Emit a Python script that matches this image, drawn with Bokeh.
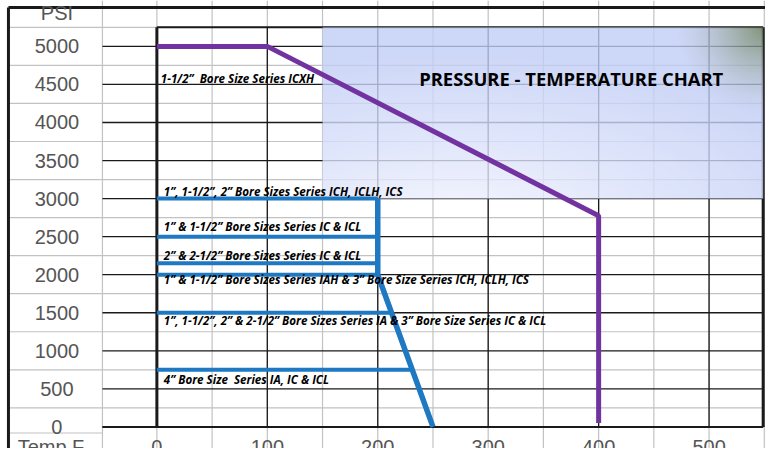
import numpy as np
from bokeh.plotting import figure
from bokeh.models import Range1d
from bokeh.core.properties import value
from bokeh.embed import file_html
from bokeh.resources import INLINE

# ---------------- data ----------------
psi_ticks = [0, 500, 1000, 1500, 2000, 2500, 3000, 3500, 4000, 4500, 5000]
psi_labels = ["0", "500", "1000", "1500", "2000", "2500", "3000", "3500", "4000", "4500", "5000"]
temp_ticks = [0, 100, 200, 300, 400, 500]
temp_labels = ["0", "100", "200", "300", "400", "500"]
y_axis_name = "PSI"
x_axis_name = "Temp F"

# ICXH rating (purple)
icxh_temp = [0, 100, 400, 400]
icxh_psi = [5000, 5000, 2775, 50]

# Rated pressure levels (blue) and the temperature where each meets the derating line
blue_levels = [3000, 2500, 2150, 2000, 1500, 750]
blue_level_end = [200, 200, 200, 200, 212, 231]
# Derating limit line (blue)
blue_limit_temp = [200, 200, 250]
blue_limit_psi = [3000, 2000, 0]

series_labels = [
    "1-1/2\u201d\u00a0 Bore Size Series ICXH",
    "1\u201d, 1-1/2\u201d, 2\u201d Bore Sizes Series ICH, ICLH, ICS",
    "1\u201d & 1-1/2\u201d Bore Sizes Series IC & ICL",
    "2\u201d & 2-1/2\u201d Bore Sizes Series IC & ICL",
    "1\u201d & 1-1/2\u201d Bore Sizes Series IAH & 3\u201d Bore Size Series ICH, ICLH, ICS",
    "1\u201d, 1-1/2\u201d, 2\u201d & 2-1/2\u201d Bore Sizes Series IA & 3\u201d Bore Size Series IC & ICL",
    "4\u201d Bore Size\u00a0 Series IA, IC & ICL",
]
chart_title = "PRESSURE - TEMPERATURE CHART"

# ---------------- layout (positions / styles) ----------------
X_LO, X_HI = -141.6, 551.1
Y_LO, Y_HI = -284.0, 5603.0
LABEL_COL = -49.3       # spreadsheet column boundary left of the plot
X_RIGHT = 549.0         # right border of plot area
Y_TOP = 5250.0          # top border of plot area
SHEET_LEFT = -134.4
SHEET_TOP = 5512.0

label_x = [3.6, 6.3, 6.3, 6.3, 6.3, 6.3, 6.3]
label_y = [4579, 3098, 2634, 2246, 1936, 1394, 620]

p = figure(width=765, height=448, x_range=Range1d(X_LO, X_HI), y_range=Range1d(Y_LO, Y_HI),
           x_axis_type=None, y_axis_type=None, toolbar_location=None, output_backend="svg",
           min_border=0, min_border_left=0, min_border_right=0, min_border_top=0, min_border_bottom=0)
p.outline_line_color = None
p.background_fill_color = "white"
p.border_fill_color = "white"

GRAY = "#c2c2c2"
BLACK = "#1a1a1a"

# spreadsheet gray lines
col_lines = [LABEL_COL] + list(range(0, 551, 50))
p.segment(x0=col_lines, y0=[Y_LO] * len(col_lines), x1=col_lines, y1=[Y_HI] * len(col_lines),
          line_color=GRAY, line_width=1.2)
row_lines = list(range(250, 5251, 500))
p.segment(x0=[SHEET_LEFT] * len(row_lines), y0=row_lines, x1=[X_RIGHT] * len(row_lines), y1=row_lines,
          line_color=GRAY, line_width=1.2)
p.segment(x0=[SHEET_LEFT], y0=[-80], x1=[LABEL_COL], y1=[-80], line_color=GRAY, line_width=1.2)

# black chart grid
p.segment(x0=[LABEL_COL] * len(psi_ticks), y0=psi_ticks, x1=[X_RIGHT] * len(psi_ticks), y1=psi_ticks,
          line_color=BLACK, line_width=1.3)
p.segment(x0=temp_ticks[1:], y0=[0] * 5, x1=temp_ticks[1:], y1=[Y_TOP] * 5,
          line_color=BLACK, line_width=1.3)
p.segment(x0=[0, X_RIGHT], y0=[0, 0], x1=[0, X_RIGHT], y1=[Y_TOP, Y_TOP], line_color=BLACK, line_width=3)
p.segment(x0=[0, LABEL_COL], y0=[Y_TOP, 0], x1=[X_RIGHT, X_RIGHT], y1=[Y_TOP, 0], line_color=BLACK, line_width=2)
# outer sheet border
p.segment(x0=[SHEET_LEFT, SHEET_LEFT], y0=[SHEET_TOP, Y_LO], x1=[X_HI, SHEET_LEFT], y1=[SHEET_TOP, SHEET_TOP],
          line_color=BLACK, line_width=3)

# gradient title box
W, H = 220, 90
u = np.linspace(0, 1, W)[None, :]
v = np.linspace(0, 1, H)[:, None]
d = np.sqrt((u - 0.3) ** 2 + ((v + 0.15) * 0.9) ** 2)
t = np.clip(d / 0.9, 0, 1) ** 0.9
white = np.array([247, 248, 255.0])
blue = np.array([206, 216, 248.0])
col = white[None, None, :] * (1 - t[..., None]) + blue[None, None, :] * t[..., None]
px_w, px_h = 445.0, 174.0
dc = np.sqrt(((1 - u) * px_w) ** 2 + ((1 - v) * px_h) ** 2)
wc = np.clip(1 - dc / 90.0, 0, 1) ** 1.5
dark = np.array([132, 150, 124.0])
col = col * (1 - wc[..., None]) + dark[None, None, :] * wc[..., None]
A = 0.8
src = np.clip((col - (1 - A) * 255) / A, 0, 255).astype(np.uint8)
img = np.zeros((H, W), dtype=np.uint32)
view = img.view(dtype=np.uint8).reshape((H, W, 4))
view[..., 0] = src[..., 0]
view[..., 1] = src[..., 1]
view[..., 2] = src[..., 2]
view[..., 3] = 255
p.image_rgba(image=[img], x=150, y=3000, dw=X_RIGHT - 150, dh=Y_TOP - 3000, global_alpha=A)

# blue rating lines
BLUE = "#1e78c2"
p.segment(x0=[0] * len(blue_levels), y0=blue_levels, x1=blue_level_end, y1=blue_levels,
          line_color=BLUE, line_width=4)
p.line(blue_limit_temp, blue_limit_psi, line_color=BLUE, line_width=5.5)

# purple ICXH line
p.line(icxh_temp, icxh_psi, line_color="#7232a0", line_width=5)

# series labels
p.text(x=label_x, y=label_y, text=series_labels, text_font=value("Open Sans"),
       text_font_style="bold italic", text_font_size="11.6px", text_color="black",
       text_align="left", text_baseline="middle")
p.text(x=[237.5], y=[4583], text=[chart_title], text_font=value("Open Sans"),
       text_font_style="bold", text_font_size="18.4px", text_color="black",
       text_align="left", text_baseline="middle")

# tick labels
TICK_COLOR = "#555555"
p.text(x=[-90.5] * len(psi_ticks), y=psi_ticks, text=psi_labels, text_font=value("Liberation Sans"),
       text_font_size="20px", text_color=TICK_COLOR, text_align="center", text_baseline="middle")
p.text(x=temp_ticks, y=[-262] * len(temp_ticks), text=temp_labels, text_font=value("Liberation Sans"),
       text_font_size="20px", text_color=TICK_COLOR, text_align="center", text_baseline="middle")
p.text(x=[-90.5], y=[5435], text=[y_axis_name], text_font=value("Liberation Sans"),
       text_font_size="20px", text_color=TICK_COLOR, text_align="center", text_baseline="middle")
p.text(x=[-95.9], y=[-262], text=[x_axis_name], text_font=value("Liberation Sans"),
       text_font_size="20px", text_color=TICK_COLOR, text_align="center", text_baseline="middle")

open("out.html", "w").write(file_html(p, INLINE))
